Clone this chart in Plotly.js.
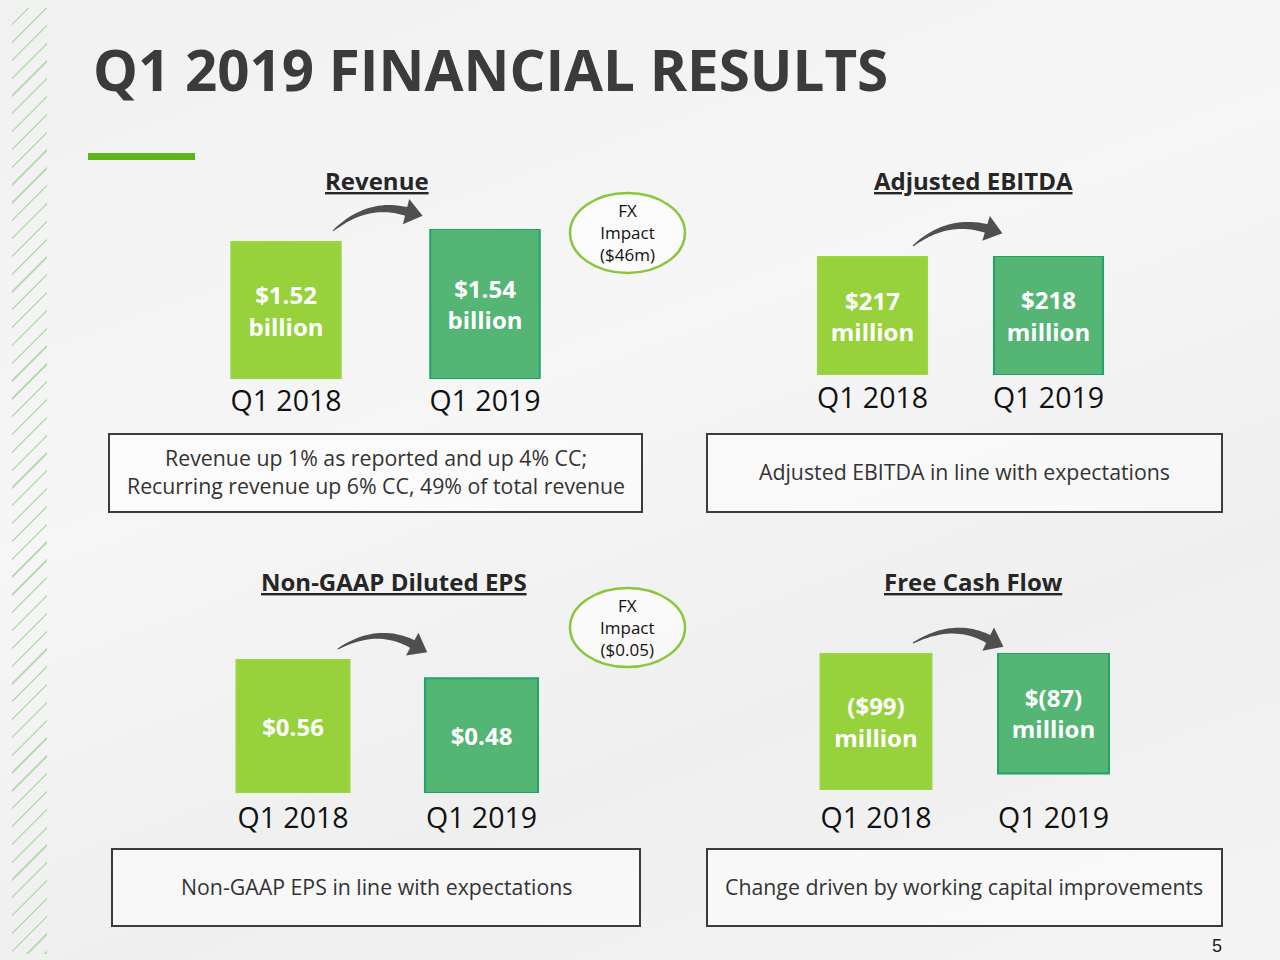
<!DOCTYPE html>
<html>
<head>
<meta charset="utf-8">
<script src="https://cdn.plot.ly/plotly-3.0.1.min.js"></script>
<style>
  html, body { margin:0; padding:0; }
  body { width:1280px; height:960px; overflow:hidden;
         background: linear-gradient(160deg, #f1f1f1 0%, #f6f6f6 40%, #efefef 70%, #f4f4f4 100%); position:relative; }
  #stripes { position:absolute; left:12px; top:8px; width:35px; height:946px;
             background: repeating-linear-gradient(135deg, rgba(0,0,0,0) 0px, rgba(0,0,0,0) 11px, #b9dcb4 11px, #b9dcb4 12.6px); }
  #chart { position:absolute; left:0; top:0; width:1280px; height:960px; }
</style>
</head>
<body>
<div id="stripes"></div>
<div id="chart"></div>
<script>
// ---- data ----
const years = ['Q1 2018', 'Q1 2019'];
const revenueBillion = [1.52, 1.54];
const revenueLabels = ['$1.52<br>billion', '$1.54<br>billion'];
const ebitdaMillion = [217, 218];
const ebitdaLabels = ['$217<br>million', '$218<br>million'];
const epsDollars = [0.56, 0.48];
const epsLabels = ['$0.56', '$0.48'];
const fcfMillion = [-99, -87];
const fcfLabels = ['($99)<br>million', '$(87)<br>million'];
const panelTitles = ['Revenue', 'Adjusted EBITDA', 'Non-GAAP Diluted EPS', 'Free Cash Flow'];
const panelNotes = [
  'Revenue up 1% as reported and up 4% CC;<br>Recurring revenue up 6% CC, 49% of total revenue',
  'Adjusted EBITDA in line with expectations',
  'Non-GAAP EPS in line with expectations',
  'Change driven by working capital improvements'
];
const fxNotes = ['FX<br>Impact<br>($46m)', 'FX<br>Impact<br>($0.05)'];

// revenue panel uses a truncated axis (as in the slide)
const REV_AXIS_FLOOR = 1.31;

// ---- style ----
const W = 1280, H = 960;
const px = x => x / W;
const py = y => 1 - y / H;
const LIGHT = '#97d23d', LIGHT_LINE = '#9ad641';
const DARK = '#55b574', DARK_LINE = '#22a36a';
const FONT = 'Open Sans, sans-serif';

function barTrace(vals, labels, xa, ya, width, base) {
  const t = {
    type: 'bar', x: years, y: vals, xaxis: xa, yaxis: ya,
    width: width,
    marker: { color: [LIGHT, DARK], line: { color: [LIGHT_LINE, DARK_LINE], width: 2 } },
    text: labels.map(s => '<b>' + s + '</b>'),
    textposition: 'inside', insidetextanchor: 'middle', textangle: 0,
    constraintext: 'none',
    textfont: { family: FONT, size: 24, color: '#ffffff', lineposition: 'none' },
    hoverinfo: 'none'
  };
  if (base !== undefined) {
    t.base = base;
    t.y = vals.map(v => v - base);
  }
  return t;
}

const data = [
  barTrace(revenueBillion, revenueLabels, 'x', 'y', 0.55, REV_AXIS_FLOOR),
  barTrace(ebitdaMillion, ebitdaLabels, 'x2', 'y2', 0.62),
  barTrace(epsDollars, epsLabels, 'x3', 'y3', 0.6),
  barTrace(fcfMillion, fcfLabels, 'x4', 'y4', 0.625)
];

function xax(l, r, anchor, standoff) {
  return { domain: [px(l), px(r)], anchor: anchor, type: 'category', range: [-0.5, 1.5],
    showgrid: false, zeroline: false, showline: false, ticks: '', ticklabelstandoff: standoff,
    tickfont: { family: FONT, size: 28.5, color: '#111111' }, fixedrange: true };
}
function yax(top, bottom, range, anchor) {
  return { domain: [py(bottom), py(top)], anchor: anchor, range: range,
    showgrid: false, zeroline: false, showline: false, showticklabels: false, ticks: '', fixedrange: true };
}

// decorative arrow shape builder (pixel coords -> paper)
function arrowShapes(p0, p1, p2, dir) {
  const N = 24;
  const up = [], dn = [];
  for (let i = 0; i <= N; i++) {
    const t = i / N;
    const x = (1-t)*(1-t)*p0[0] + 2*(1-t)*t*p1[0] + t*t*p2[0];
    const y = (1-t)*(1-t)*p0[1] + 2*(1-t)*t*p1[1] + t*t*p2[1];
    const dx = 2*(1-t)*(p1[0]-p0[0]) + 2*t*(p2[0]-p1[0]);
    const dy = 2*(1-t)*(p1[1]-p0[1]) + 2*t*(p2[1]-p1[1]);
    const L = Math.hypot(dx, dy);
    const nx = -dy / L, ny = dx / L;
    const th = 1 + 8 * Math.pow(t, 0.8);
    up.push([x + nx*th/2, y + ny*th/2]);
    dn.push([x - nx*th/2, y - ny*th/2]);
  }
  const poly = up.concat(dn.reverse());
  const P = p => px(p[0]).toFixed(5) + ',' + py(p[1]).toFixed(5);
  const body = 'M' + poly.map(P).join(' L') + ' Z';
  const dl = Math.hypot(dir[0], dir[1]);
  const ux = dir[0]/dl, uy = dir[1]/dl, nx = -uy, ny = ux;
  const tip = [p2[0] + ux*15, p2[1] + uy*15];
  const a = [p2[0] + nx*13 - ux*2, p2[1] + ny*13 - uy*2];
  const b = [p2[0] - nx*13 - ux*2, p2[1] - ny*13 - uy*2];
  const head = 'M' + [a, tip, b].map(P).join(' L') + ' Z';
  const st = { type: 'path', xref: 'paper', yref: 'paper', fillcolor: '#4f4f4f', line: { width: 0 }, layer: 'above' };
  return [Object.assign({ path: body }, st), Object.assign({ path: head }, st)];
}

const shapes = [];
// green accent under title
shapes.push({ type: 'rect', xref: 'paper', yref: 'paper', x0: px(88), x1: px(195), y0: py(160), y1: py(153),
  fillcolor: '#5cb619', line: { width: 0 } });
// note boxes
[[109, 434, 642, 512], [707, 434, 1222, 512], [112, 849, 640, 926], [707, 849, 1222, 926]].forEach(b => {
  shapes.push({ type: 'rect', xref: 'paper', yref: 'paper', x0: px(b[0]), x1: px(b[2]), y0: py(b[3]), y1: py(b[1]),
    fillcolor: 'rgba(255,255,255,0.55)', line: { color: '#3c3c3c', width: 2 } });
});
// FX ellipses
[[570, 193, 685, 273], [570, 588, 685, 667]].forEach(b => {
  shapes.push({ type: 'circle', xref: 'paper', yref: 'paper', x0: px(b[0]), x1: px(b[2]), y0: py(b[3]), y1: py(b[1]),
    fillcolor: 'rgba(255,255,255,0.6)', line: { color: '#8cc63f', width: 2.5 } });
});
// arrows
shapes.push(...arrowShapes([333, 231], [368, 200], [408, 212], [1, 0.25]));
shapes.push(...arrowShapes([913, 246], [948, 217], [988, 229], [1, 0.3]));
shapes.push(...arrowShapes([338, 649], [378, 625], [414, 645], [1, 0.55]));
shapes.push(...arrowShapes([913, 643], [955, 620], [990, 640], [1, 0.5]));

const annotations = [];
annotations.push({ xref: 'paper', yref: 'paper', x: px(91), y: py(70), xanchor: 'left', yanchor: 'middle',
  text: '<b>Q1 2019 FINANCIAL RESULTS</b>', showarrow: false,
  font: { family: FONT, size: 56.5, color: '#3b3b3b' } });
[[377, 181], [973, 181], [394, 581], [973, 581]].forEach((p, i) => {
  annotations.push({ xref: 'paper', yref: 'paper', x: px(p[0]), y: py(p[1]), xanchor: 'center', yanchor: 'middle',
    text: '<b><u>' + panelTitles[i] + '</u></b>', showarrow: false,
    font: { family: FONT, size: 24, color: '#262626' } });
});
[[376, 471], [964, 471], [376, 886], [964, 886]].forEach((p, i) => {
  annotations.push({ xref: 'paper', yref: 'paper', x: px(p[0]), y: py(p[1]), xanchor: 'center', yanchor: 'middle',
    text: panelNotes[i], showarrow: false,
    font: { family: FONT, size: 21.3, color: '#333333' } });
});
[[627, 233], [627, 627]].forEach((p, i) => {
  annotations.push({ xref: 'paper', yref: 'paper', x: px(p[0]), y: py(p[1]), xanchor: 'center', yanchor: 'middle',
    text: fxNotes[i], showarrow: false,
    font: { family: FONT, size: 17, color: '#111111' } });
});
annotations.push({ xref: 'paper', yref: 'paper', x: px(1217), y: py(946), xanchor: 'center', yanchor: 'middle',
  text: '5', showarrow: false, font: { family: 'Liberation Sans, Arial, sans-serif', size: 18, color: '#222222' } });

const layout = {
  width: W, height: H, margin: { l: 0, r: 0, t: 0, b: 0, pad: 0 },
  paper_bgcolor: 'rgba(0,0,0,0)', plot_bgcolor: 'rgba(0,0,0,0)',
  showlegend: false, barmode: 'group',
  xaxis: xax(186.5, 584.5, 'y', 2),
  yaxis: yax(229, 379, [REV_AXIS_FLOOR, 1.54], 'x'),
  xaxis2: xax(784.5, 1136.5, 'y2', 3),
  yaxis2: yax(256, 375, [0, 218], 'x2'),
  xaxis3: xax(198.75, 575.75, 'y3', 5),
  yaxis3: yax(659, 793, [0, 0.56], 'x3'),
  xaxis4: xax(787.25, 1142.25, 'y4', 8),
  yaxis4: yax(653, 790, [-99, 0], 'x4'),
  shapes: shapes, annotations: annotations
};

Plotly.newPlot('chart', data, layout, { displayModeBar: false, staticPlot: true });
</script>
</body>
</html>
